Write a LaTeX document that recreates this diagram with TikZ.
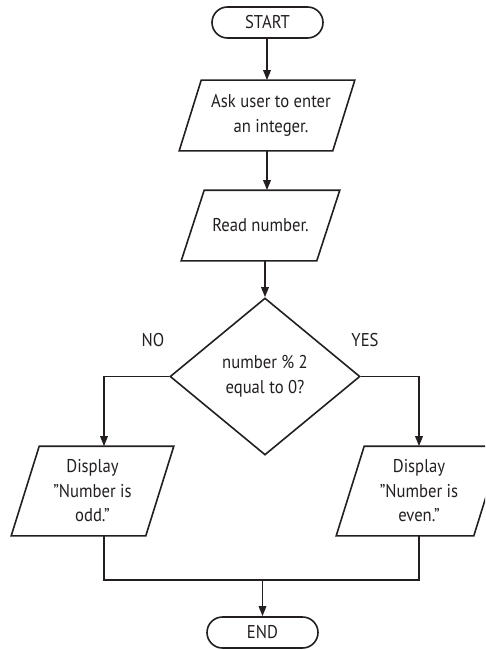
\documentclass[tikz,border=0pt]{standalone}
\usepackage{fontspec}
\setmainfont[FakeStretch=0.9]{PT Sans}
\usetikzlibrary{arrows.meta,shapes.geometric}
\definecolor{ink}{RGB}{35,31,32}
\begin{document}
\begin{tikzpicture}[x=1pt,y=-1pt,
  line width=1.6pt, draw=ink,
  every node/.style={font=\fontsize{18.5}{24.5}\selectfont, text=ink, inner sep=0pt, align=center},
  term/.style={draw=ink, rounded corners=15.5pt, minimum width=111pt, minimum height=31pt},
  decbox/.style={draw=ink, shape=diamond, minimum width=190pt, minimum height=157pt},
  arr/.style={-{Triangle[length=10pt,width=7.5pt]}}
]
\useasboundingbox (0,0) rectangle (485,650);
\clip (0,0) rectangle (485,650);

\node[term] (start) at (267.5,22.5) {START};

\node[minimum width=152pt, minimum height=69pt] (p1) at (271,115.5) {Ask user to enter\\an integer.};
\draw ([xshift=7pt]p1.north west) -- ([xshift=7pt]p1.north east) -- ([xshift=-15pt]p1.south east) -- ([xshift=-15pt]p1.south west) -- cycle;

\node[minimum width=134pt, minimum height=69pt] (p2) at (260.5,225.5) {Read number.};
\draw ([xshift=11.5pt]p2.north west) -- ([xshift=11.5pt]p2.north east) -- ([xshift=-11.5pt]p2.south east) -- ([xshift=-11.5pt]p2.south west) -- cycle;

\node[decbox] (dec) at (265,376.5) {number \% 2\\equal to 0?};

\node (no) at (153,340) {NO};
\node (yes) at (365,340) {YES};

\node[minimum width=133pt, minimum height=88pt] (lp) at (92.5,491) {Display\\\char"201D Number is\\odd.\char"201D};
\draw ([xshift=14pt]lp.north west) -- ([xshift=14pt]lp.north east) -- ([xshift=-14pt]lp.south east) -- ([xshift=-14pt]lp.south west) -- cycle;

\node[minimum width=136pt, minimum height=88pt] (rp) at (419,491) {Display\\\char"201D Number is\\even.\char"201D};
\draw ([xshift=14pt]rp.north west) -- ([xshift=14pt]rp.north east) -- ([xshift=-14pt]rp.south east) -- ([xshift=-14pt]rp.south west) -- cycle;

\node[term] (end) at (262.5,632.5) {END};

\coordinate (cx) at (267,0);
\coordinate (lx) at (104,0);
\coordinate (rx) at (419,0);
\coordinate (jn) at (262.5,580);

\draw[arr] (cx |- start.south) -- (cx |- p1.north);
\draw[arr] (cx |- p1.south) -- (cx |- p2.north);
\draw[arr] (dec.north |- p2.south) -- (dec.north);
\draw[arr] (dec.west) -| (lx |- lp.north);
\draw[arr] (dec.east) -| (rx |- rp.north);
\draw (lx |- lp.south) |- (jn) -| (rx |- rp.south);
\draw[arr] (jn) -- (end.north);
\end{tikzpicture}
\end{document}
